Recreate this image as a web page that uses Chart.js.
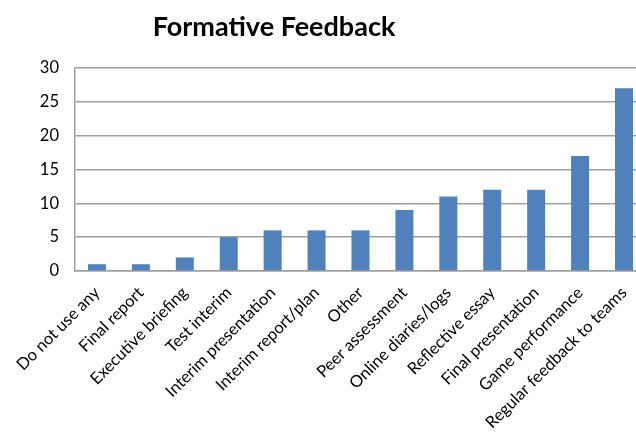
<!DOCTYPE html>
<html>
<head>
<meta charset="utf-8">
<script src="https://cdn.jsdelivr.net/npm/chart.js@4"></script>
<style>
  html, body { margin: 0; padding: 0; background: #fff; overflow: hidden; }
  #wrap { width: 650px; height: 435px; }
</style>
</head>
<body>
<div id="wrap"><canvas id="chart" width="650" height="435"></canvas></div>
<script>
const categories = [
  "Do not use any", "Final report", "Executive briefing", "Test interim",
  "Interim presentation", "Interim report/plan", "Other", "Peer assessment",
  "Online diaries/logs", "Reflective essay", "Final presentation",
  "Game performance", "Regular feedback to teams"
]
const counts = [1, 1, 2, 5, 6, 6, 6, 9, 11, 12, 12, 17, 27]
const yTicks = [0, 5, 10, 15, 20, 25, 30]
const chartTitle = "Formative Feedback"

const font = "Lato, 'Open Sans', sans-serif"

// The original chart is wider than the picture, so its title sits left of
// the canvas centre; draw it by hand instead of with the title plugin.
const titlePlugin = {
  id: "offsetTitle",
  afterDraw: (chart) => {
    const { ctx } = chart
    ctx.save()
    ctx.font = `bold 27px ${font}`
    ctx.fillStyle = "#000"
    ctx.textAlign = "center"
    ctx.textBaseline = "alphabetic"
    ctx.fillText(chartTitle, 274, 36)
    ctx.restore()
  }
}

new Chart(document.getElementById("chart"), {
  type: "bar",
  data: {
    labels: categories,
    datasets: [ { data: counts, backgroundColor: "#4F81BD", barPercentage: 0.41, categoryPercentage: 1 } ]
  },
  options: {
    responsive: false,
    animation: false,
    layout: { padding: { top: 68, left: 0, right: 0, bottom: 0 } },
    plugins: {
      legend: { display: false },
      tooltip: { enabled: false },
      title: { display: false }
    },
    scales: {
      x: {
        grid: { display: false, drawTicks: false },
        border: { color: "#a0a0a0", width: 1.5 },
        ticks: {
          color: "#000",
          font: { family: font, size: 16.5 },
          minRotation: 45,
          maxRotation: 45,
          autoSkip: false,
          padding: 12
        },
        afterFit: (axis) => { axis.height = 164 }
      },
      y: {
        min: 0,
        max: 30,
        afterBuildTicks: (axis) => { axis.ticks = yTicks.map((value) => ({ value })) },
        grid: { color: "#a0a0a0", lineWidth: 1.5, drawTicks: false },
        border: { color: "#a0a0a0", width: 1.5 },
        ticks: { color: "#000", font: { family: font, size: 16.5 }, padding: 16 },
        afterFit: (axis) => { axis.width = 75 }
      }
    }
  },
  plugins: [ titlePlugin ]
})
</script>
</body>
</html>
